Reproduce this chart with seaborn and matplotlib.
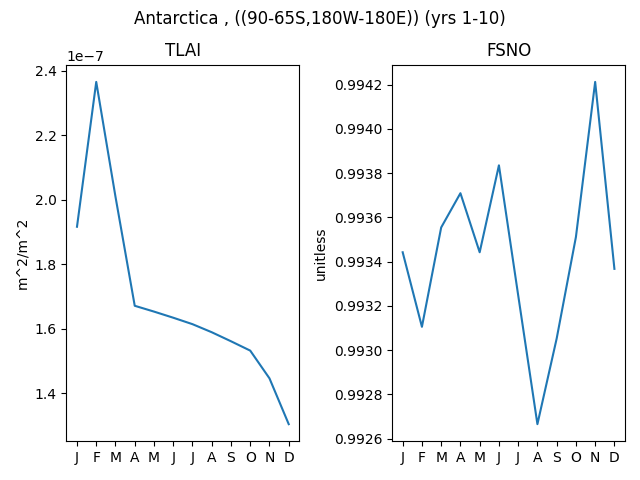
import matplotlib
matplotlib.use("Agg")
import matplotlib.pyplot as plt
import seaborn as sns
import pandas as pd

months = ["J", "F", "M", "A", "M", "J", "J", "A", "S", "O", "N", "D"]
tlai = [1.916e-7, 2.365e-7, 2.009e-7, 1.671e-7, 1.653e-7, 1.634e-7,
        1.614e-7, 1.589e-7, 1.561e-7, 1.532e-7, 1.446e-7, 1.304e-7]
fsno = [0.993442, 0.993105, 0.993554, 0.993709, 0.993442, 0.993835,
        0.993248, 0.992665, 0.993052, 0.993511, 0.994212, 0.993367]

df = pd.DataFrame({"month": range(12), "TLAI": tlai, "FSNO": fsno})

fig, axes = plt.subplots(1, 2, figsize=(6.4, 4.8), dpi=100)

# panel izquierdo
sns.lineplot(data=df, x="month", y="TLAI", ax=axes[0])
axes[0].set_title("TLAI")
axes[0].set_ylabel("m^2/m^2")

# panel derecho
sns.lineplot(data=df, x="month", y="FSNO", ax=axes[1])
axes[1].set_title("FSNO")
axes[1].set_ylabel("unitless")

for ax in axes:
    ax.set_xticks(range(12))
    ax.set_xticklabels(months)
    ax.set_xlabel("")

fig.suptitle("Antarctica , ((90-65S,180W-180E)) (yrs 1-10)")
fig.tight_layout()
fig.subplots_adjust(top=0.865)
fig.savefig("out.png")
